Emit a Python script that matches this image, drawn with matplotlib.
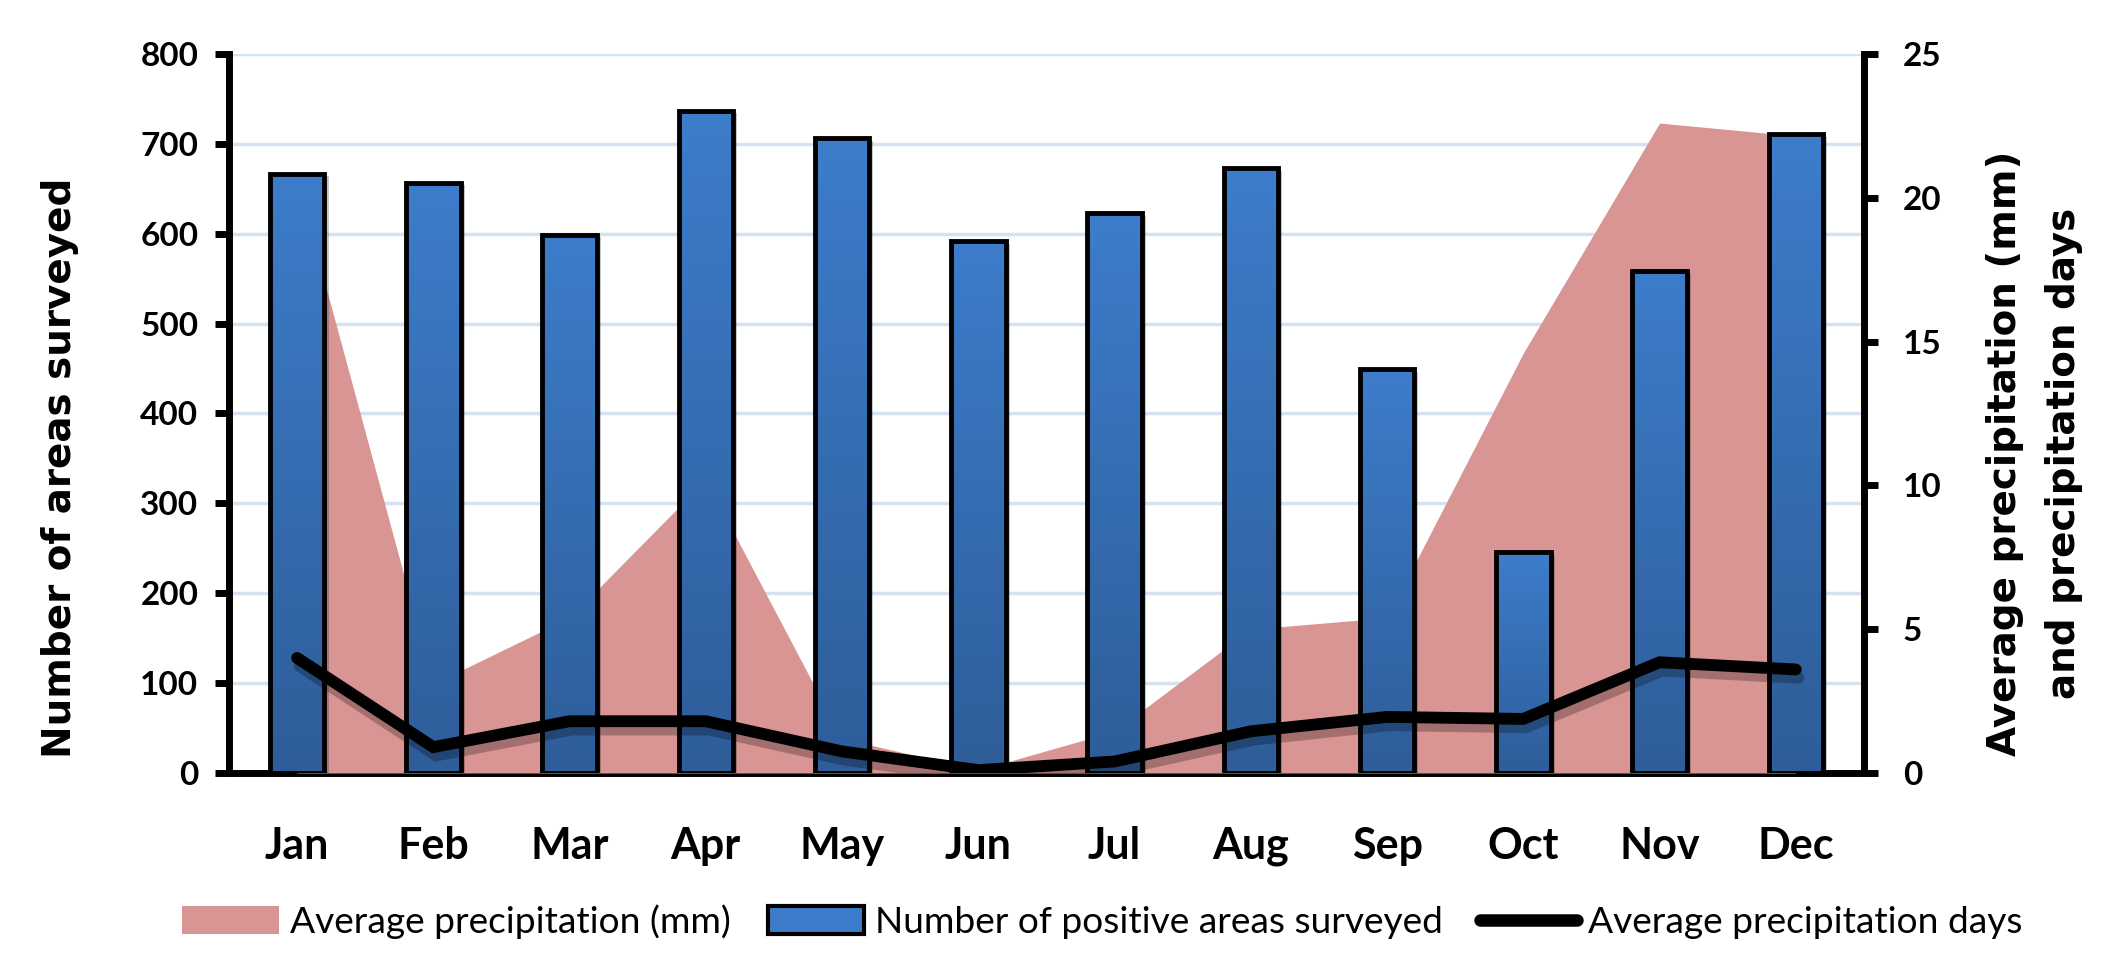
import numpy as np
import matplotlib
matplotlib.use("Agg")
import matplotlib.pyplot as plt
import matplotlib.patheffects as pe
from matplotlib.patches import Patch
from matplotlib.lines import Line2D
from matplotlib.colors import to_rgb

# data
months = ["Jan", "Feb", "Mar", "Apr", "May", "Jun", "Jul", "Aug", "Sep", "Oct", "Nov", "Dec"]
positive_areas = [667, 657, 599, 737, 706, 592, 623, 673, 449, 246, 558, 711]
precip_mm = [20.6, 3.1, 5.4, 10.2, 1.2, 0.1, 1.45, 5.0, 5.4, 14.6, 22.6, 22.15]
precip_days = [4.0, 0.9, 1.8, 1.8, 0.75, 0.1, 0.4, 1.45, 1.95, 1.88, 3.85, 3.6]
left_ticks = list(range(0, 801, 100))
right_ticks = list(range(0, 26, 5))

pink = "#D99594"
blue_top = "#3D7DCB"
blue_bot = "#2E5D99"
grid_col = "#D5E2F1"

tick_font = "Lato"
title_font = "DejaVu Sans"

fig = plt.figure(figsize=(21.28, 9.66), dpi=100)
rect = [0.1076, 0.1998, 0.7683, 0.7443]
x = np.arange(len(months))

# base axes: grid, left scale, month labels
ax = fig.add_axes(rect, zorder=1)
ax.set_xlim(-0.5, 11.5)
ax.set_ylim(0, 800)
ax.set_yticks(left_ticks)
ax.set_xticks(x)
ax.set_xticklabels(months, fontfamily=tick_font, fontweight="bold", fontsize=31)
ax.set_yticklabels([str(v) for v in left_ticks], fontfamily=tick_font, fontweight="bold", fontsize=24)
ax.yaxis.grid(True, color=grid_col, lw=2.5)
ax.set_axisbelow(True)
for s in ["top", "right"]:
    ax.spines[s].set_visible(False)
for s in ["left", "bottom"]:
    ax.spines[s].set_linewidth(5)
ax.tick_params(axis="y", length=10, width=5, pad=12, direction="out")
ax.tick_params(axis="x", length=0, pad=38)

# precipitation area (right scale), behind bars
ax_area = fig.add_axes(rect, zorder=2)
ax_area.set_xlim(-0.5, 11.5)
ax_area.set_ylim(0, 25)
ax_area.fill_between(x, precip_mm, 0, color=pink, lw=0)
ax_area.axis("off")
ax_area.patch.set_visible(False)

# bars with vertical gradient
ax_bar = fig.add_axes(rect, zorder=3)
ax_bar.set_xlim(-0.5, 11.5)
ax_bar.set_ylim(0, 800)
bw = 0.4
bars = ax_bar.bar(x, positive_areas, width=bw, color=blue_bot, lw=0,
                  path_effects=[pe.SimplePatchShadow(offset=(3, -2), alpha=0.25), pe.Normal()])
c0 = np.array(to_rgb(blue_bot))
c1 = np.array(to_rgb(blue_top))
grad = np.linspace(0, 1, 256)[::-1][:, None, None]
grad_img = c0 + (c1 - c0) * grad
for b in bars:
    im = ax_bar.imshow(grad_img, extent=[b.get_x(), b.get_x() + b.get_width(), 0, b.get_height()],
                       aspect="auto", zorder=2, interpolation="bilinear")
    im.set_clip_path(b)
ax_bar.bar(x, positive_areas, width=bw, fill=False, edgecolor="black", lw=3.5, zorder=3)
ax_bar.set_xlim(-0.5, 11.5)
ax_bar.set_ylim(0, 800)
ax_bar.axis("off")
ax_bar.patch.set_visible(False)

# precipitation days line + right axis
ax_line = fig.add_axes(rect, zorder=4)
ax_line.set_xlim(-0.5, 11.5)
ax_line.set_ylim(0, 25)
ax_line.plot(x, precip_days, color="black", lw=8.5, solid_capstyle="round", solid_joinstyle="miter",
             path_effects=[pe.SimpleLineShadow(offset=(2, -6), shadow_color="black", alpha=0.25), pe.Normal()])
ax_line.patch.set_visible(False)
for s in ["top", "left", "bottom"]:
    ax_line.spines[s].set_visible(False)
ax_line.spines["right"].set_linewidth(5)
ax_line.set_xticks([])
ax_line.yaxis.tick_right()
ax_line.set_yticks(right_ticks)
ax_line.set_yticklabels([str(v) for v in right_ticks], fontfamily=tick_font, fontweight="bold", fontsize=24)
ax_line.tick_params(axis="y", length=10, width=5, pad=18, direction="out")

# axis titles
fig.text(0.028, 0.516, "Number of areas surveyed", rotation=90, ha="center", va="center",
         fontfamily=title_font, fontweight="bold", fontsize=28)
fig.text(0.956, 0.531, "Average precipitation (mm)\nand precipitation days", rotation=90,
         ha="center", va="center", multialignment="center", linespacing=1.7,
         fontfamily=title_font, fontweight="bold", fontsize=28)

# legend
handles = [Patch(facecolor=pink, edgecolor="none"),
           Patch(facecolor=blue_top, edgecolor="black", lw=3),
           Line2D([0], [0], color="black", lw=9, solid_capstyle="round")]
labels = ["Average precipitation (mm)", "Number of positive areas surveyed", "Average precipitation days"]
fig.legend(handles, labels, loc="center", bbox_to_anchor=(0.518, 0.046), ncol=3, frameon=False,
           prop={"family": tick_font, "size": 26.7}, handlelength=2.6, handleheight=0.75,
           handletextpad=0.3, columnspacing=1.0)

fig.savefig("out.png", dpi=100)
